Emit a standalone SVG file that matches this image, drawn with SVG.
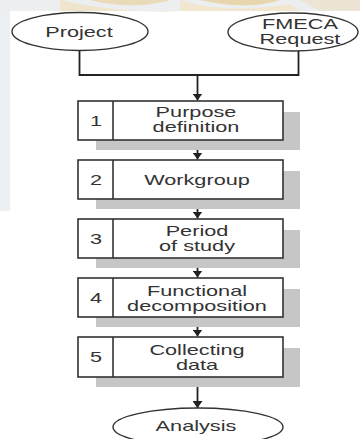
<svg xmlns="http://www.w3.org/2000/svg" width="360" height="439" viewBox="0 0 360 439">
<defs>
<style>
.bg{fill:#ffffff}
.t{font-family:"Liberation Sans",Arial,sans-serif;font-size:14px;fill:#333;text-anchor:middle}
.box{fill:#fff;stroke:#333;stroke-width:1.6}
.sh{fill:#c6c6c6}
.ell{fill:#fff;stroke:#333;stroke-width:1.4}
.ln{fill:none;stroke:#222;stroke-width:1.8}
</style>
<marker id="ah" viewBox="0 0 7 10" refX="7" refY="5" markerWidth="7" markerHeight="10" markerUnits="userSpaceOnUse" orient="auto">
<path d="M0,0 L7,5 L0,10 Z" fill="#222"/>
</marker>
</defs>
<rect class="bg" x="0" y="0" width="360" height="439"/>
<g id="backdrop">
<rect x="0" y="0" width="360" height="11" fill="#eceef0"/>
<path d="M60,0 Q120,14 180,11 L60,11 Z" fill="#efe4cc"/>
<path d="M90,0 C120,8 150,6 170,0 Z" fill="#eadbb8"/>
<path d="M180,0 C210,10 250,11 290,4 L300,11 L180,11 Z" fill="#f1e6cf"/>
<path d="M200,0 C230,7 260,7 280,0 Z" fill="#e8d6ae"/>
<path d="M300,0 L360,0 L360,11 L320,11 Z" fill="#ece4d4"/>
<rect x="0" y="11" width="10" height="200" fill="#edf0f3"/>
</g>
<g id="connectors">
<path class="ln" d="M79.5,50 V75 H298.5 V51"/>
<path class="ln" d="M197.5,75 V100.5" marker-end="url(#ah)"/>
<path class="ln" d="M197.5,140 V159.5" marker-end="url(#ah)"/>
<path class="ln" d="M197.5,199 V218.5" marker-end="url(#ah)"/>
<path class="ln" d="M197.5,258 V277.5" marker-end="url(#ah)"/>
<path class="ln" d="M197.5,317 V336.5" marker-end="url(#ah)"/>
<path class="ln" d="M197.5,377 V408" marker-end="url(#ah)"/>
</g>
<g id="project">
<ellipse class="ell" cx="80" cy="31.5" rx="68" ry="19"/>
<text class="t" transform="translate(79,37) scale(1.55,1)">Project</text>
</g>
<g id="fmeca-request">
<ellipse class="ell" cx="293" cy="32" rx="65" ry="19"/>
<text class="t" transform="translate(300,29) scale(1.55,1)">FMECA</text>
<text class="t" transform="translate(300,44) scale(1.55,1)">Request</text>
</g>
<g id="step1">
<rect class="sh" x="96" y="112" width="204" height="38"/>
<rect class="box" x="78" y="101" width="205" height="39"/>
<line class="box" x1="113" y1="101" x2="113" y2="140"/>
<text class="t" transform="translate(96,126) scale(1.55,1)">1</text>
<text class="t" transform="translate(196,117) scale(1.55,1)">Purpose</text>
<text class="t" transform="translate(196,132) scale(1.55,1)">definition</text>
</g>
<g id="step2">
<rect class="sh" x="96" y="171" width="204" height="38"/>
<rect class="box" x="78" y="160" width="205" height="39"/>
<line class="box" x1="113" y1="160" x2="113" y2="199"/>
<text class="t" transform="translate(96,185) scale(1.55,1)">2</text>
<text class="t" transform="translate(197,184.5) scale(1.55,1)">Workgroup</text>
</g>
<g id="step3">
<rect class="sh" x="96" y="230" width="204" height="38"/>
<rect class="box" x="78" y="219" width="205" height="39"/>
<line class="box" x1="113" y1="219" x2="113" y2="258"/>
<text class="t" transform="translate(96,244) scale(1.55,1)">3</text>
<text class="t" transform="translate(197,236) scale(1.55,1)">Period</text>
<text class="t" transform="translate(197,251) scale(1.55,1)">of study</text>
</g>
<g id="step4">
<rect class="sh" x="96" y="289" width="204" height="38"/>
<rect class="box" x="78" y="278" width="205" height="39"/>
<line class="box" x1="113" y1="278" x2="113" y2="317"/>
<text class="t" transform="translate(96,303) scale(1.55,1)">4</text>
<text class="t" transform="translate(197,296) scale(1.55,1)">Functional</text>
<text class="t" transform="translate(197,311) scale(1.55,1)">decomposition</text>
</g>
<g id="step5">
<rect class="sh" x="96" y="348" width="204" height="39"/>
<rect class="box" x="78" y="337" width="205" height="40"/>
<line class="box" x1="113" y1="337" x2="113" y2="377"/>
<text class="t" transform="translate(96,362) scale(1.55,1)">5</text>
<text class="t" transform="translate(197,355) scale(1.55,1)">Collecting</text>
<text class="t" transform="translate(197,370) scale(1.55,1)">data</text>
</g>
<g id="analysis">
<ellipse class="ell" cx="198" cy="427" rx="85" ry="19"/>
<text class="t" transform="translate(196,431) scale(1.55,1)">Analysis</text>
</g>
</svg>
